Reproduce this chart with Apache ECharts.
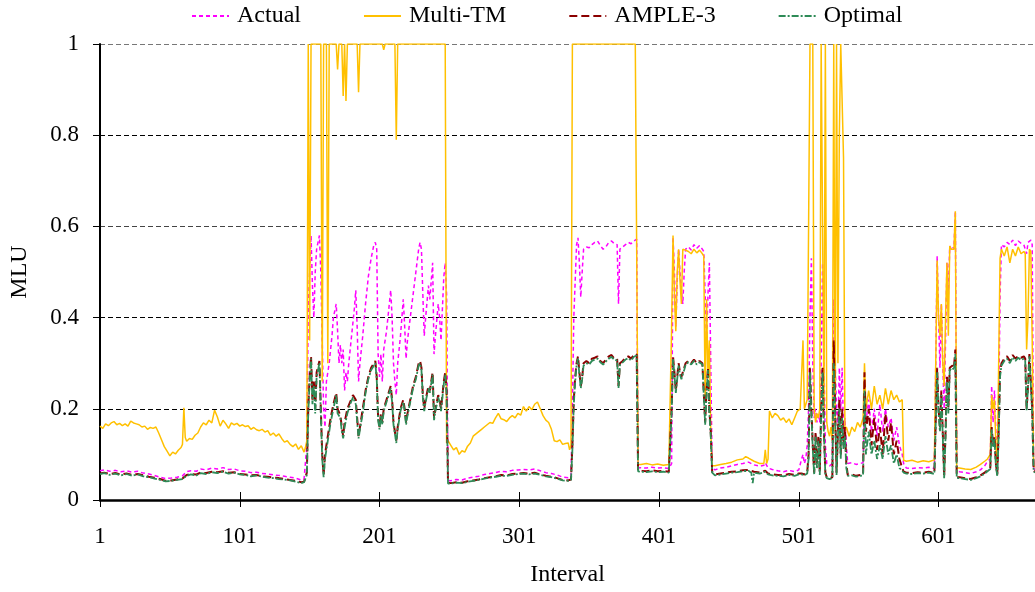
<!DOCTYPE html>
<html><head><meta charset="utf-8">
<script src="https://cdn.jsdelivr.net/npm/echarts@6/dist/echarts.min.js"></script>
<style>html,body{margin:0;padding:0;background:#fff}#c{width:1035px;height:592px}</style>
</head><body><div id="c"></div>
<script>
const seriesNames = ['Actual', 'Multi-TM', 'AMPLE-3', 'Optimal'];
const xTickLabels = ['1', '101', '201', '301', '401', '501', '601'];
const yTickLabels = ['0', '0.2', '0.4', '0.6', '0.8', '1'];

// [interval, MLU]
const actual = [
[1,0.064],[4,0.066],[8,0.063],[12,0.065],[16,0.062],[20,0.064],[24,0.061],[28,0.063],[32,0.059],[36,0.057],[40,0.054],[44,0.05],[48,0.047],[52,0.048],[56,0.05],[60,0.053],[63,0.062],[66,0.064],[70,0.063],[73,0.068],[77,0.066],[81,0.07],[85,0.068],[89,0.071],[93,0.067],[97,0.068],[101,0.064],[105,0.063],[109,0.06],[113,0.061],[117,0.058],[121,0.057],[125,0.055],[129,0.054],[133,0.052],[137,0.05],[141,0.048],[145,0.044],[147,0.046],[148,0.043],
[149,0.12],[150,0.42],[151,0.5],[152,0.58],[153,0.47],[154,0.4],[155,0.5],[156,0.55],[158,0.58],[159,0.5],[160,0.35],[161,0.2],[162,0.16],[163,0.26],[165,0.3],[167,0.36],[168,0.4],[170,0.43],[171,0.37],[172,0.3],[173,0.34],[174,0.3],[175,0.33],[176,0.24],[177,0.28],[178,0.26],[179,0.3],[181,0.36],[183,0.42],[184,0.46],[185,0.38],[186,0.26],[187,0.3],[189,0.36],[191,0.43],[193,0.49],[195,0.53],[197,0.56],[198,0.565],[199,0.55],[200,0.32],[201,0.27],[202,0.32],[203,0.26],[204,0.33],[206,0.37],[208,0.43],[209,0.46],[210,0.4],[211,0.3],[212,0.26],[213,0.23],[214,0.3],[216,0.36],[218,0.44],[219,0.38],[220,0.31],[221,0.35],[223,0.4],[225,0.45],[227,0.5],[229,0.55],[230,0.565],[231,0.55],[232,0.45],[233,0.36],[234,0.4],[236,0.47],[237,0.44],[238,0.48],[239,0.52],[240,0.32],[241,0.36],[243,0.43],[244,0.4],[245,0.35],[246,0.42],[247,0.49],[248,0.52],[249,0.45],[250,0.043],
[252,0.042],[256,0.045],[260,0.044],[264,0.048],[268,0.05],[272,0.052],[276,0.056],[280,0.058],[284,0.06],[288,0.063],[292,0.062],[296,0.065],[300,0.066],[304,0.067],[308,0.066],[312,0.068],[316,0.064],[320,0.06],[324,0.058],[328,0.055],[332,0.05],[336,0.049],[338,0.051],
[339,0.2],[340,0.4],[341,0.48],[342,0.56],[343,0.575],[344,0.52],[345,0.445],[346,0.5],[347,0.55],[349,0.555],[351,0.553],[353,0.56],[355,0.565],[357,0.568],[359,0.558],[361,0.55],[363,0.555],[365,0.565],[367,0.568],[369,0.562],[371,0.56],[372,0.43],[373,0.55],[375,0.555],[377,0.56],[379,0.565],[381,0.562],[383,0.568],[385,0.572],[386,0.07],
[388,0.071],[392,0.07],[396,0.072],[400,0.07],[404,0.071],[408,0.069],[409,0.072],
[410,0.08],[411,0.577],[412,0.5],[413,0.38],[414,0.48],[415,0.55],[416,0.5],[417,0.46],[418,0.43],[419,0.5],[420,0.55],[422,0.555],[424,0.548],[426,0.56],[428,0.552],[430,0.558],[432,0.55],[433,0.545],[434,0.45],[435,0.35],[436,0.45],[437,0.52],[438,0.3],[439,0.07],
[441,0.066],[445,0.07],[449,0.072],[453,0.075],[457,0.078],[461,0.08],[465,0.083],[469,0.077],[473,0.074],[476,0.076],[477,0.082],[479,0.07],[482,0.067],[486,0.064],[490,0.062],[494,0.065],[498,0.062],[501,0.066],
[503,0.09],[504,0.1],[505,0.08],[506,0.09],[507,0.12],[508,0.2],[509,0.4],[510,0.53],[511,0.3],[512,0.18],[513,0.2],[514,0.17],[515,0.19],[516,0.17],[517,0.3],[518,0.52],[519,0.3],[520,0.12],[521,0.08],[523,0.075],[525,0.08],[526,0.44],[527,0.3],[528,0.2],[529,0.16],[530,0.29],[531,0.2],[532,0.29],[533,0.15],[534,0.18],[535,0.12],[536,0.08],[539,0.082],[542,0.078],[545,0.08],[547,0.082],
[548,0.2],[549,0.17],[551,0.22],[553,0.15],[555,0.2],[557,0.14],[559,0.21],[561,0.15],[563,0.2],[565,0.16],[567,0.18],[569,0.13],[571,0.16],[573,0.12],[575,0.1],[576,0.08],
[578,0.07],[582,0.069],[586,0.071],[590,0.07],[594,0.072],[598,0.069],[599,0.07],
[600,0.535],[601,0.4],[602,0.29],[603,0.43],[604,0.3],[605,0.2],[606,0.35],[607,0.52],[608,0.45],[609,0.557],[610,0.55],[611,0.555],[612,0.55],[613,0.633],[614,0.07],
[616,0.062],[620,0.06],[624,0.058],[628,0.062],[631,0.066],[634,0.075],[636,0.085],[637,0.083],
[638,0.09],[639,0.25],[640,0.17],[641,0.24],[642,0.15],[643,0.06],[644,0.2],[645,0.45],[646,0.56],[648,0.555],[650,0.565],[652,0.56],[654,0.57],[656,0.558],[658,0.568],[660,0.563],[662,0.56],[663,0.56],[664,0.54],[665,0.565],[667,0.57],[668,0.56],[669,0.07],[670,0.066]
];

const multiTM = [
[1,0.162],[3,0.157],[5,0.167],[7,0.163],[9,0.169],[11,0.172],[13,0.165],[15,0.168],[17,0.163],[19,0.167],[21,0.162],[23,0.173],[25,0.169],[27,0.167],[29,0.165],[31,0.16],[33,0.162],[35,0.155],[37,0.159],[39,0.157],[41,0.16],[43,0.147],[45,0.132],[47,0.117],[49,0.107],[51,0.097],[53,0.105],[55,0.101],[57,0.109],[59,0.115],[60,0.122],[61,0.202],[62,0.137],[63,0.129],[65,0.135],[67,0.133],[69,0.142],[71,0.147],[73,0.16],[75,0.169],[77,0.165],[79,0.175],[81,0.169],[83,0.197],[85,0.182],[87,0.162],[89,0.175],[91,0.167],[93,0.157],[95,0.169],[97,0.165],[99,0.168],[101,0.162],[103,0.165],[105,0.161],[107,0.163],[109,0.155],[111,0.159],[113,0.154],[115,0.152],[117,0.155],[119,0.149],[121,0.152],[123,0.142],[125,0.147],[127,0.14],[129,0.145],[131,0.135],[133,0.127],[135,0.13],[137,0.122],[139,0.117],[141,0.123],[143,0.111],[145,0.119],[147,0.105],[148,0.115],
[149,0.13],[150,1],[151,0.35],[152,1],[159,1],[160,0.26],[161,1],[163,1],[164,0.3],[165,1],[170,1],[171,0.944],[172,1],[174,1],[175,0.886],[176,1],[177,0.875],[178,1],[185,1],[186,0.894],[187,1],[203,1],[204,0.987],[205,1],[212,1],[213,0.79],[214,1],[248,1],[249,0.125],
[250,0.13],[252,0.12],[254,0.11],[256,0.115],[258,0.1],[260,0.108],[262,0.105],[264,0.118],[266,0.125],[268,0.14],[270,0.145],[272,0.15],[274,0.155],[276,0.16],[278,0.165],[280,0.17],[282,0.168],[284,0.18],[286,0.19],[288,0.178],[290,0.176],[292,0.172],[294,0.18],[296,0.185],[298,0.18],[300,0.19],[302,0.186],[304,0.205],[306,0.195],[308,0.205],[310,0.198],[312,0.21],[314,0.215],[316,0.2],[318,0.185],[320,0.175],[322,0.17],[324,0.155],[326,0.13],[328,0.128],[330,0.132],[332,0.122],[334,0.124],[336,0.125],[337,0.11],[338,0.12],
[339,1],[384,1],[385,0.55],[386,0.078],
[388,0.078],[392,0.08],[396,0.077],[400,0.079],[404,0.076],[408,0.078],[409,0.08],
[410,0.38],[411,0.58],[412,0.45],[413,0.37],[414,0.5],[415,0.55],[416,0.48],[417,0.43],[418,0.55],[420,0.548],[422,0.545],[424,0.54],[426,0.55],[428,0.542],[430,0.548],[432,0.54],[433,0.535],[434,0.213],[435,0.44],[436,0.27],[437,0.35],[438,0.15],[439,0.075],
[441,0.075],[445,0.078],[449,0.08],[453,0.083],[457,0.088],[461,0.09],[463,0.095],[465,0.092],[469,0.085],[473,0.08],[476,0.08],[477,0.11],[478,0.08],[479,0.09],[480,0.195],[482,0.18],[484,0.19],[486,0.185],[488,0.175],[490,0.18],[492,0.17],[494,0.178],[496,0.165],[498,0.18],[500,0.195],[502,0.2],
[503,0.2],[504,0.35],[505,0.2],[506,0.21],[507,0.22],[508,0.6],[509,1],[510,1],[511,1],[512,0.2],[513,0.17],[514,0.19],[515,0.18],[516,0.2],[517,1],[518,1],[519,0.2],[520,1],[521,0.17],[522,0.15],[523,0.14],[524,0.16],[525,0.13],[526,1],[527,0.15],[528,1],[529,0.3],[530,0.8],[531,1],[532,1],[533,0.75],[534,0.15],[535,0.16],[537,0.14],[539,0.16],[541,0.15],[543,0.17],[545,0.16],[547,0.18],
[548,0.3],[549,0.2],[551,0.24],[553,0.2],[555,0.25],[557,0.21],[559,0.23],[561,0.2],[563,0.245],[565,0.21],[567,0.24],[569,0.22],[571,0.23],[573,0.215],[575,0.22],[576,0.087],
[578,0.085],[582,0.087],[586,0.083],[590,0.086],[594,0.084],[598,0.088],[599,0.085],
[600,0.525],[601,0.4],[602,0.36],[603,0.43],[604,0.3],[605,0.25],[606,0.4],[607,0.52],[608,0.36],[609,0.557],[610,0.55],[611,0.548],[612,0.55],[613,0.633],[614,0.07],
[616,0.07],[620,0.068],[624,0.067],[628,0.072],[631,0.078],[634,0.085],[636,0.09],[637,0.088],
[638,0.1],[639,0.23],[640,0.2],[641,0.22],[642,0.12],[643,0.07],[644,0.3],[645,0.53],[646,0.55],[648,0.535],[650,0.555],[652,0.52],[654,0.55],[656,0.535],[658,0.555],[660,0.54],[662,0.545],[663,0.54],[664,0.33],[665,0.4],[666,0.55],[667,0.545],[668,0.35],[669,0.075],[670,0.072]
];

const ample3 = [
[1,0.058],[4,0.06],[8,0.057],[12,0.059],[16,0.056],[20,0.058],[24,0.055],[28,0.057],[32,0.054],[36,0.051],[40,0.049],[44,0.046],[48,0.042],[52,0.043],[56,0.045],[60,0.047],[63,0.055],[66,0.057],[70,0.056],[73,0.06],[77,0.059],[81,0.062],[85,0.061],[89,0.063],[93,0.06],[97,0.061],[101,0.057],[105,0.056],[109,0.054],[113,0.055],[117,0.052],[121,0.051],[125,0.049],[129,0.048],[133,0.046],[137,0.044],[141,0.042],[145,0.039],[147,0.04],[148,0.038],
[149,0.06],[150,0.2],[151,0.27],[152,0.315],[153,0.22],[154,0.26],[155,0.2],[156,0.28],[158,0.305],[159,0.2],[160,0.1],[161,0.054],[162,0.1],[164,0.14],[166,0.18],[168,0.21],[170,0.235],[171,0.2],[173,0.185],[174,0.16],[175,0.14],[176,0.17],[178,0.2],[180,0.215],[182,0.23],[184,0.22],[186,0.14],[187,0.16],[189,0.2],[191,0.24],[193,0.27],[195,0.29],[197,0.3],[198,0.305],[199,0.27],[200,0.18],[201,0.16],[202,0.19],[203,0.17],[204,0.2],[206,0.22],[208,0.24],[209,0.25],[210,0.22],[211,0.17],[212,0.15],[213,0.13],[214,0.16],[216,0.2],[218,0.22],[219,0.2],[220,0.17],[221,0.19],[223,0.22],[225,0.25],[227,0.27],[229,0.3],[230,0.305],[231,0.29],[232,0.23],[233,0.2],[234,0.22],[236,0.25],[237,0.24],[238,0.26],[239,0.28],[240,0.18],[241,0.2],[243,0.23],[244,0.22],[245,0.2],[246,0.23],[247,0.26],[248,0.28],[249,0.24],[250,0.038],
[252,0.037],[256,0.039],[260,0.038],[264,0.041],[268,0.043],[272,0.045],[276,0.048],[280,0.05],[284,0.052],[288,0.055],[292,0.054],[296,0.057],[300,0.058],[304,0.059],[308,0.058],[312,0.06],[316,0.056],[320,0.053],[324,0.051],[328,0.048],[332,0.044],[336,0.043],[338,0.045],
[339,0.12],[340,0.22],[341,0.27],[342,0.3],[343,0.315],[344,0.28],[345,0.25],[346,0.27],[347,0.3],[349,0.305],[351,0.3],[353,0.31],[355,0.312],[357,0.315],[359,0.305],[361,0.3],[363,0.308],[365,0.315],[367,0.318],[369,0.31],[371,0.31],[372,0.25],[373,0.3],[375,0.305],[377,0.312],[379,0.315],[381,0.31],[383,0.318],[385,0.32],[386,0.065],
[388,0.064],[392,0.063],[396,0.065],[400,0.063],[404,0.064],[408,0.062],[409,0.065],
[410,0.2],[411,0.315],[412,0.28],[413,0.24],[414,0.27],[415,0.3],[416,0.28],[417,0.27],[418,0.28],[419,0.29],[420,0.3],[422,0.305],[424,0.3],[426,0.308],[428,0.3],[430,0.305],[432,0.3],[433,0.298],[434,0.17],[435,0.24],[436,0.29],[437,0.2],[438,0.15],[439,0.062],
[441,0.056],[445,0.058],[449,0.06],[453,0.062],[457,0.063],[461,0.065],[465,0.066],[469,0.062],[473,0.06],[477,0.064],[479,0.058],[482,0.056],[486,0.055],[490,0.054],[494,0.057],[498,0.055],[501,0.058],
[503,0.058],[505,0.056],[507,0.06],[508,0.1],[509,0.29],[510,0.2],[511,0.12],[512,0.06],[513,0.15],[514,0.08],[515,0.14],[516,0.06],[517,0.2],[518,0.29],[519,0.15],[520,0.06],[521,0.05],[523,0.048],[525,0.05],[526,0.35],[527,0.2],[528,0.06],[529,0.15],[530,0.22],[531,0.1],[532,0.2],[533,0.12],[534,0.16],[535,0.08],[536,0.055],[539,0.056],[542,0.053],[545,0.055],[547,0.056],
[548,0.28],[549,0.15],[551,0.2],[553,0.12],[555,0.18],[557,0.11],[559,0.16],[561,0.1],[563,0.19],[565,0.13],[567,0.17],[569,0.1],[571,0.13],[573,0.09],[575,0.07],[576,0.062],
[578,0.06],[582,0.059],[586,0.061],[590,0.06],[594,0.062],[598,0.059],[599,0.06],
[600,0.29],[601,0.2],[602,0.16],[603,0.24],[604,0.15],[605,0.05],[606,0.15],[607,0.27],[608,0.2],[609,0.29],[610,0.29],[611,0.295],[612,0.29],[613,0.33],[614,0.05],
[616,0.05],[620,0.048],[624,0.046],[628,0.05],[631,0.054],[634,0.06],[636,0.065],[637,0.063],
[638,0.07],[639,0.16],[640,0.12],[641,0.14],[642,0.08],[643,0.055],[644,0.15],[645,0.28],[646,0.3],[648,0.31],[650,0.315],[652,0.305],[654,0.318],[656,0.31],[658,0.316],[660,0.312],[662,0.315],[663,0.31],[664,0.2],[665,0.25],[666,0.32],[667,0.318],[668,0.2],[669,0.065],[670,0.062]
];

const optimal = [
[1,0.057],[4,0.059],[8,0.055],[12,0.058],[16,0.054],[20,0.057],[24,0.053],[28,0.056],[32,0.052],[36,0.05],[40,0.047],[44,0.044],[48,0.041],[52,0.042],[56,0.044],[60,0.046],[63,0.053],[66,0.056],[70,0.054],[73,0.059],[77,0.057],[81,0.061],[85,0.059],[89,0.062],[93,0.058],[97,0.06],[101,0.056],[105,0.055],[109,0.052],[113,0.054],[117,0.051],[121,0.049],[125,0.048],[129,0.046],[133,0.045],[137,0.043],[141,0.04],[145,0.037],[147,0.039],[148,0.036],
[149,0.055],[150,0.19],[151,0.26],[152,0.31],[153,0.21],[154,0.25],[155,0.19],[156,0.27],[158,0.3],[159,0.19],[160,0.09],[161,0.05],[162,0.09],[164,0.13],[166,0.17],[168,0.2],[170,0.23],[171,0.19],[173,0.18],[174,0.15],[175,0.135],[176,0.16],[178,0.19],[180,0.21],[182,0.225],[184,0.21],[186,0.135],[187,0.155],[189,0.19],[191,0.235],[193,0.265],[195,0.285],[197,0.295],[198,0.3],[199,0.265],[200,0.175],[201,0.155],[202,0.185],[203,0.165],[204,0.195],[206,0.215],[208,0.235],[209,0.245],[210,0.215],[211,0.165],[212,0.145],[213,0.125],[214,0.155],[216,0.195],[218,0.215],[219,0.195],[220,0.165],[221,0.185],[223,0.215],[225,0.245],[227,0.265],[229,0.295],[230,0.3],[231,0.285],[232,0.225],[233,0.195],[234,0.215],[236,0.245],[237,0.235],[238,0.255],[239,0.275],[240,0.175],[241,0.195],[243,0.225],[244,0.215],[245,0.195],[246,0.225],[247,0.255],[248,0.275],[249,0.235],[250,0.036],
[252,0.036],[256,0.038],[260,0.037],[264,0.04],[268,0.042],[272,0.044],[276,0.047],[280,0.049],[284,0.051],[288,0.053],[292,0.053],[296,0.055],[300,0.057],[304,0.058],[308,0.056],[312,0.058],[316,0.055],[320,0.052],[324,0.05],[328,0.047],[332,0.043],[336,0.042],[338,0.044],
[339,0.11],[340,0.21],[341,0.26],[342,0.295],[343,0.31],[344,0.275],[345,0.245],[346,0.265],[347,0.295],[349,0.3],[351,0.297],[353,0.305],[355,0.308],[357,0.31],[359,0.302],[361,0.297],[363,0.304],[365,0.31],[367,0.314],[369,0.307],[371,0.306],[372,0.245],[373,0.296],[375,0.302],[377,0.308],[379,0.311],[381,0.306],[383,0.314],[385,0.317],[386,0.063],
[388,0.062],[392,0.061],[396,0.063],[400,0.061],[404,0.062],[408,0.06],[409,0.063],
[410,0.19],[411,0.31],[412,0.275],[413,0.235],[414,0.265],[415,0.295],[416,0.275],[417,0.265],[418,0.275],[419,0.285],[420,0.297],[422,0.302],[424,0.297],[426,0.305],[428,0.297],[430,0.302],[432,0.297],[433,0.295],[434,0.165],[435,0.235],[436,0.285],[437,0.19],[438,0.14],[439,0.06],
[441,0.054],[445,0.056],[449,0.058],[453,0.06],[457,0.061],[461,0.063],[465,0.064],[467,0.06],[468,0.037],[469,0.06],[473,0.058],[477,0.062],[479,0.056],[482,0.054],[486,0.053],[490,0.052],[494,0.055],[498,0.053],[501,0.056],
[503,0.056],[505,0.054],[507,0.058],[508,0.09],[509,0.28],[510,0.19],[511,0.11],[512,0.055],[513,0.14],[514,0.07],[515,0.13],[516,0.055],[517,0.19],[518,0.28],[519,0.14],[520,0.055],[521,0.048],[523,0.046],[525,0.048],[526,0.3],[527,0.18],[528,0.055],[529,0.14],[530,0.2],[531,0.09],[532,0.18],[533,0.11],[534,0.14],[535,0.07],[536,0.053],[539,0.054],[542,0.051],[545,0.053],[547,0.054],
[548,0.24],[549,0.1],[551,0.15],[553,0.1],[555,0.13],[557,0.09],[559,0.12],[561,0.09],[563,0.14],[565,0.1],[567,0.12],[569,0.08],[571,0.1],[573,0.07],[575,0.065],[576,0.06],
[578,0.058],[582,0.057],[586,0.059],[590,0.058],[594,0.06],[598,0.057],[599,0.058],
[600,0.28],[601,0.19],[602,0.15],[603,0.23],[604,0.14],[605,0.048],[606,0.14],[607,0.26],[608,0.19],[609,0.285],[610,0.285],[611,0.29],[612,0.285],[613,0.32],[614,0.048],
[616,0.048],[620,0.046],[624,0.044],[628,0.048],[631,0.052],[634,0.058],[636,0.063],[637,0.061],
[638,0.068],[639,0.155],[640,0.115],[641,0.135],[642,0.075],[643,0.053],[644,0.14],[645,0.27],[646,0.295],[648,0.305],[650,0.31],[652,0.3],[654,0.313],[656,0.305],[658,0.312],[660,0.307],[662,0.31],[663,0.305],[664,0.195],[665,0.245],[666,0.315],[667,0.313],[668,0.19],[669,0.063],[670,0.06]
];

const FONT = 'Liberation Serif';
const styles = [
  {color:'#FF00FF', width:1.5, type:[4,3]},
  {color:'#FFC000', width:1.5, type:'solid'},
  {color:'#8B0000', width:2, type:[8,4]},
  {color:'#2E8B57', width:1.8, type:[7,2,2,2]}
];
const datasets = [actual, multiTM, ample3, optimal];
// x positions are plotted as (interval - 1) so the ticks fall on 1, 101, 201 ...
const toXY = arr => arr.map(p => [p[0] - 1, p[1]]);

const chart = echarts.init(document.getElementById('c'), null, {renderer:'canvas'});
chart.setOption({
  animation:false,
  backgroundColor:'#fff',
  textStyle:{fontFamily:FONT},
  legend:{
    data:seriesNames, left:191, top:4, padding:0, itemGap:62, itemWidth:37, itemHeight:14,
    itemStyle:{color:'rgba(0,0,0,0)', borderColor:'rgba(0,0,0,0)', borderWidth:0, opacity:0},
    textStyle:{fontFamily:FONT, fontSize:24, color:'#000', padding:[0,0,0,3]}
  },
  grid:{left:98, right:0, top:44, bottom:87, containLabel:false},
  xAxis:[{
    type:'value', min:0, max:669, interval:100,
    name:'Interval', nameLocation:'middle', nameGap:63,
    nameTextStyle:{fontFamily:FONT, fontSize:24, color:'#000'},
    axisLine:{show:true, onZero:false, lineStyle:{color:'#000', width:2.5}},
    axisTick:{show:true, inside:false, length:7, lineStyle:{color:'#000', width:1}},
    axisLabel:{fontFamily:FONT, fontSize:23, color:'#000', margin:25, showMaxLabel:false,
      formatter: v => xTickLabels[Math.round(v/100)] || ''},
    splitLine:{show:false}
  },{
    type:'value', min:0, max:669, interval:100, position:'bottom',
    axisLine:{show:false}, axisLabel:{show:false}, splitLine:{show:false},
    axisTick:{show:true, inside:true, length:8, lineStyle:{color:'#000', width:1}}
  }],
  yAxis:{
    type:'value', min:0, max:1, interval:0.2,
    name:'MLU', nameLocation:'middle', nameGap:68,
    nameTextStyle:{fontFamily:FONT, fontSize:24, color:'#000'},
    axisLine:{show:true, lineStyle:{color:'#000', width:2}},
    axisTick:{show:true, length:7, lineStyle:{color:'#000', width:1}},
    axisLabel:{fontFamily:FONT, fontSize:23, color:'#000', margin:21,
      formatter: v => yTickLabels[Math.round(v/0.2)]},
    splitLine:{show:true, lineStyle:{color:['#000','#000','#000','#444','#000','#777'], width:1, type:[5,3]}}
  },
  series: seriesNames.map((n,i) => ({
    name:n, type:'line', xAxisIndex:0, data:toXY(datasets[i]),
    symbol:'none', showSymbol:false, smooth:false, clip:true,
    lineStyle:styles[i], itemStyle:{color:styles[i].color},
    z: 2 + i
  }))
});
</script></body></html>
